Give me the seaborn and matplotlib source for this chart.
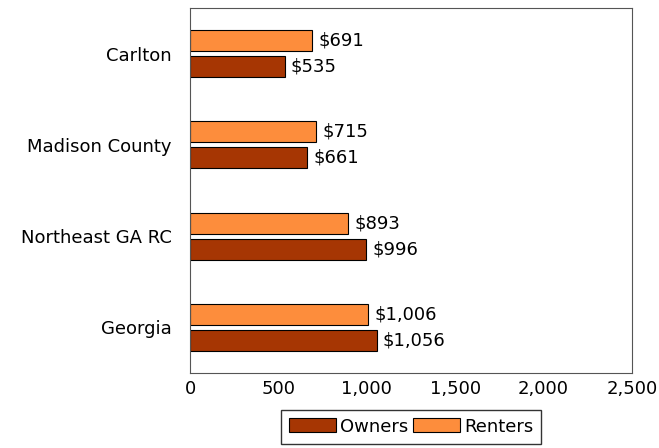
import pandas as pd
import seaborn as sns
import matplotlib
import matplotlib.pyplot as plt

matplotlib.rc('font', family='DejaVu Sans', size=13)

places = ['Carlton', 'Madison County', 'Northeast GA RC', 'Georgia']
owners = [535, 661, 996, 1056]
renters = [691, 715, 893, 1006]
xTicks = [0, 500, 1000, 1500, 2000, 2500]
xTickLabels = ['0', '500', '1,000', '1,500', '2,000', '2,500']

ownerCol = '#a63603'
renterCol = '#fd8d3c'

plotData = pd.DataFrame({'place': places * 2,
                         'tenure': ['Renters'] * 4 + ['Owners'] * 4,
                         'cost': renters + owners})

fig = plt.figure(figsize=(6.59, 4.48), dpi=100)
ax = fig.add_axes([190 / 659, 1 - 373 / 448, 442 / 659, 365 / 448])

sns.barplot(data=plotData, y='place', x='cost', hue='tenure', order=places,
            hue_order=['Renters', 'Owners'], palette=[renterCol, ownerCol],
            orient='h', width=0.57, gap=0.19, edgecolor='black', linewidth=0.8,
            saturation=1, ax=ax)

for cont in ax.containers:
    ax.bar_label(cont, labels=['${:,.0f}'.format(v) for v in cont.datavalues],
                 padding=4.5, fontsize=13)

ax.set(xlim=(0, 2500), ylim=(3.5, -0.5), xlabel='', ylabel='',
       xticks=xTicks, xticklabels=xTickLabels)
for s in ax.spines.values():
    s.set_color('#555555')
    s.set_linewidth(0.8)
ax.tick_params(axis='y', length=0, pad=13)
ax.tick_params(axis='x', length=0, pad=5)

handles, labels = ax.get_legend_handles_labels()
ax.legend([handles[1], handles[0]], [labels[1], labels[0]], loc='upper center',
          bbox_to_anchor=(0.5, -0.1), borderaxespad=0, ncol=2, frameon=True,
          fancybox=False, edgecolor='black', handlelength=2.6, handleheight=0.8,
          handletextpad=0.2, columnspacing=0.3, borderpad=0.45, fontsize=13)

fig.savefig('out.png', dpi=100)
